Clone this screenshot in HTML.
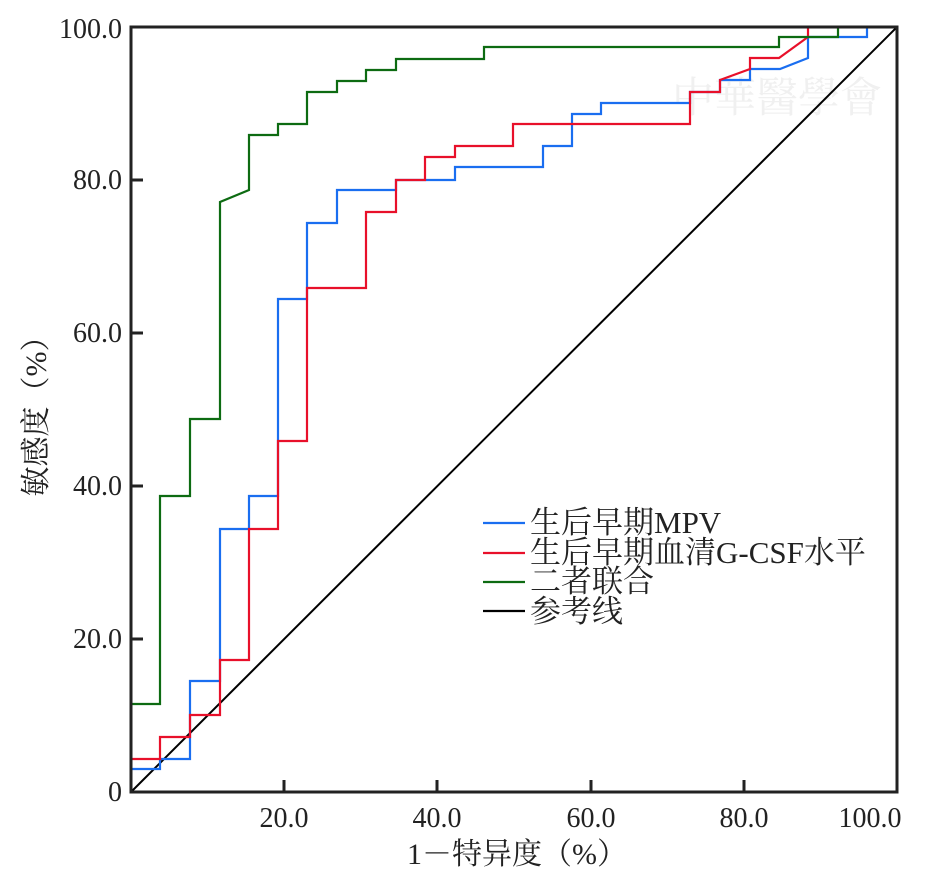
<!DOCTYPE html>
<html><head><meta charset="utf-8"><style>
body{margin:0;background:#fff}
text{font-family:"Liberation Serif","Noto Serif CJK SC",serif;fill:#222}
</style></head><body>
<svg width="930" height="885" viewBox="0 0 930 885" xmlns="http://www.w3.org/2000/svg">
<text x="672" y="112" font-size="42" style="fill:#f0f0f0">中華醫學會</text>
<g fill="none" stroke-width="2.2" stroke-linejoin="miter">
<line x1="131" y1="792" x2="897" y2="27" stroke="#000" stroke-width="2"/>
<polyline stroke="#1a6ef0" points="131,792 131,769 160,769 160,759 190,759 190,681 220,681 220,529 249,529 249,496 278,496 278,299 307,299 307,223 337,223 337,190 396,190 396,180 455,180 455,167 543,167 543,146 572,146 572,114 601,114 601,103 690,103 690,92 720,92 720,80 750,80 750,69 780,69 808,58 808,37 867,37 867,27 897,27"/>
<polyline stroke="#e8102a" points="131,792 131,759 160,759 160,737 190,737 190,715 220,715 220,660 249,660 249,529 278,529 278,441 307,441 307,288 366,288 366,212 396,212 396,180 425,180 425,157 455,157 455,146 513,146 513,124 690,124 690,92 720,92 720,80 750,69 750,58 779,58 808,37 808,27 897,27"/>
<polyline stroke="#0d6b12" points="131,792 131,704 160,704 160,496 190,496 190,419 220,419 220,202 249,190 249,135 278,135 278,124 307,124 307,92 337,92 337,81 366,81 366,70 396,70 396,59 484,59 484,47 779,47 779,37 838,37 838,27 897,27"/>
</g>
<g stroke="#222" stroke-width="3" fill="none">
<rect x="131" y="27" width="766" height="765"/>
<line x1="131" y1="639" x2="143" y2="639"/>
<line x1="131" y1="486" x2="143" y2="486"/>
<line x1="131" y1="333" x2="143" y2="333"/>
<line x1="131" y1="180" x2="143" y2="180"/>
<line x1="284" y1="792" x2="284" y2="780"/>
<line x1="437" y1="792" x2="437" y2="780"/>
<line x1="591" y1="792" x2="591" y2="780"/>
<line x1="744" y1="792" x2="744" y2="780"/>
</g>
<g font-size="28" text-anchor="end">
<text x="122" y="801">0</text>
<text x="122" y="648">20.0</text>
<text x="122" y="495">40.0</text>
<text x="122" y="342">60.0</text>
<text x="122" y="189">80.0</text>
<text x="122" y="38">100.0</text>
</g>
<g font-size="28" text-anchor="middle">
<text x="284" y="827">20.0</text>
<text x="437" y="827">40.0</text>
<text x="591" y="827">60.0</text>
<text x="744" y="827">80.0</text>
<text x="870" y="827">100.0</text>
</g>
<g font-size="30" text-anchor="middle">
<text x="517" y="864">1－特异度（%）</text>
<text transform="translate(46,409) rotate(-90)">敏感度（%）</text>
</g>
<g stroke-width="2.2">
<line x1="483" y1="523" x2="525" y2="523" stroke="#1a6ef0"/>
<line x1="483" y1="553" x2="525" y2="553" stroke="#e8102a"/>
<line x1="483" y1="582" x2="525" y2="582" stroke="#0d6b12"/>
<line x1="483" y1="611" x2="525" y2="611" stroke="#000"/>
</g>
<g font-size="31">
<text x="530" y="533">生后早期MPV</text>
<text x="530" y="563">生后早期血清G-CSF水平</text>
<text x="530" y="592">二者联合</text>
<text x="530" y="622">参考线</text>
</g>
</svg>
</body></html>
